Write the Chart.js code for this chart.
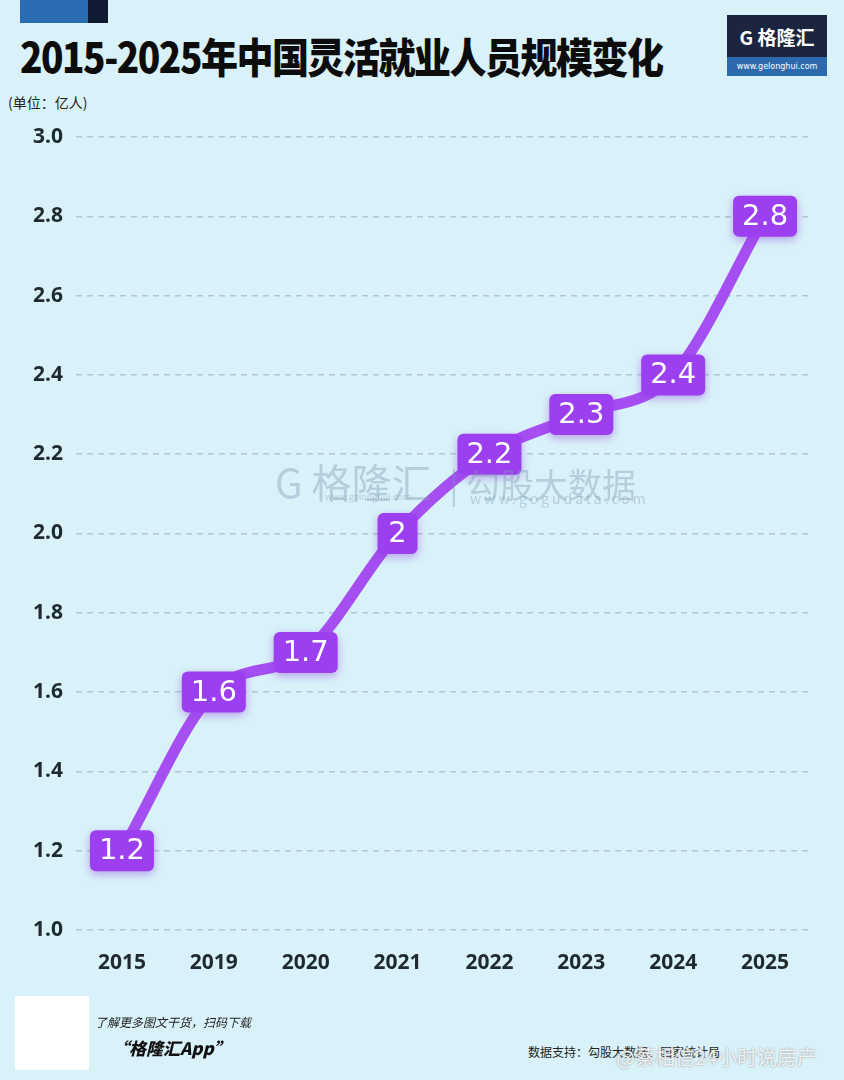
<!DOCTYPE html>
<html>
<head>
<meta charset="utf-8">
<script src="https://cdn.jsdelivr.net/npm/chart.js@4"></script>
<style>
  body { margin: 0; width: 844px; height: 1080px; background: #d9f2f9; position: relative; overflow: hidden;
         font-family: "Noto Sans CJK SC", "Noto Sans", sans-serif; }
  .abs { position: absolute; }
  #chartBox { left: 0; top: 100px; width: 844px; height: 900px; }
  #title { left: 20px; top: 25px; font-size: 37px; font-weight: 900; color: #0c0c0c; letter-spacing: -1.5px; white-space: nowrap;
           transform: scaleY(1.12); transform-origin: left top; }
  #unit { left: 8px; top: 92px; font-size: 14px; color: #222; }
  #logo { left: 727px; top: 15px; width: 100px; height: 61px; background: #1c2540; }
  #logo .name { position: absolute; left: 0; top: 8px; width: 100%; text-align: center; color: #fff; font-size: 19px; font-weight: 700; }
  #logo .url { position: absolute; left: 0; bottom: 0; width: 100%; height: 19px; background: #2c69ad; color: #fff; font-size: 8px; text-align: center; line-height: 19px; font-family: "DejaVu Sans", sans-serif; }
  #wm { left: 275px; top: 452px; color: rgba(125,155,175,0.4); white-space: nowrap; }
</style>
</head>
<body>
<div class="abs" style="left:20px;top:0;width:68px;height:23px;background:#2b6db2"></div>
<div class="abs" style="left:88px;top:0;width:20px;height:23px;background:#101a33"></div>
<div class="abs" id="title">2015-2025年中国灵活就业人员规模变化</div>
<div class="abs" id="logo"><div class="name">G 格隆汇</div><div class="url">www.gelonghui.com</div></div>
<div class="abs" id="unit">(单位：亿人)</div>
<div class="abs" id="chartBox"><canvas id="lineChart"></canvas></div>
<div class="abs" id="wm">
  <span style="font-size:40px;font-weight:400">G 格隆汇</span>
  <span style="font-size:34px;margin-left:14px">| 勾股大数据</span>
  <div style="position:absolute;left:50px;top:38px;font-size:9px">www.gelonghui.com</div>
  <div style="position:absolute;left:195px;top:36px;font-size:14px;letter-spacing:3px">www.gogudata.com</div>
</div>
<div class="abs" style="left:15px;top:996px;width:74px;height:74px;background:#fff"></div>
<div class="abs" style="left:95px;top:1013px;font-size:12px;font-style:italic;color:#222">了解更多图文干货，扫码下载</div>
<div class="abs" style="left:112px;top:1035px;font-size:17px;font-style:italic;font-weight:900;color:#111">“格隆汇App”</div>
<div class="abs" style="left:528px;top:1043px;font-size:12px;color:#222;white-space:nowrap">数据支持：勾股大数据、国家统计局</div>
<div class="abs" style="left:616px;top:1042px;font-size:20px;color:rgba(255,255,255,0.85);white-space:nowrap;text-shadow:0 0 2px #888">@蔡相信24小时说房产</div>
<script>
var years = ['2015', '2019', '2020', '2021', '2022', '2023', '2024', '2025'];
var workers = [1.2, 1.6, 1.7, 2.0, 2.2, 2.3, 2.4, 2.8];
var valueLabels = ['1.2', '1.6', '1.7', '2', '2.2', '2.3', '2.4', '2.8'];

// draws the purple value boxes on top of each point
var boxLabels = {
    id: 'boxLabels',
    afterDatasetsDraw: function (chart) {
        var c = chart.ctx;
        var pts = chart.getDatasetMeta(0).data;
        c.save();
        c.font = '29px "DejaVu Sans", sans-serif';
        c.textAlign = 'center';
        c.textBaseline = 'middle';
        pts.forEach(function (p, i) {
            var w = valueLabels[i].length > 1 ? 64 : 40, h = 41;
            c.shadowColor = 'rgba(140,60,220,0.45)';
            c.shadowBlur = 8;
            c.shadowOffsetY = 3;
            c.fillStyle = '#9b3ff0';
            c.beginPath();
            c.roundRect(p.x - w / 2, p.y - h / 2, w, h, 6);
            c.fill();
            c.shadowColor = 'transparent';
            c.fillStyle = '#ffffff';
            c.fillText(valueLabels[i], p.x, p.y + 1);
        });
        c.restore();
    }
};

var ctx = document.getElementById('lineChart').getContext('2d');
var myLineChart = new Chart(ctx, {
    type: 'line',
    data: {
        labels: years,
        datasets: [{
            data: workers,
            borderColor: '#a54ff2',
            borderWidth: 11,
            borderCapStyle: 'round',
            tension: 0.4,
            cubicInterpolationMode: 'monotone',
            pointRadius: 0,
            fill: false
        }]
    },
    plugins: [boxLabels],
    options: {
        responsive: true,
        maintainAspectRatio: false,
        animation: false,
        layout: { padding: { top: 37, right: 33, bottom: 20, left: 0 } },
        plugins: { legend: { display: false }, tooltip: { enabled: false } },
        scales: {
            x: {
                offset: true,
                grid: { display: false, drawTicks: false },
                border: { display: false },
                ticks: { padding: 20, color: '#1f2a30', font: { size: 21, weight: 'bold', family: '"Noto Sans", sans-serif' } },
                afterFit: function (s) { s.height = 50; }
            },
            y: {
                min: 1.0,
                max: 3.0,
                ticks: {
                    stepSize: 0.2,
                    padding: 13,
                    color: '#1f2a30',
                    font: { size: 21, weight: 'bold', family: '"Noto Sans", sans-serif' },
                    callback: function (v) { return v.toFixed(1); }
                },
                grid: { color: '#b0c8d0', lineWidth: 1.5, drawTicks: false },
                border: { display: false, dash: [6, 5] },
                afterFit: function (s) { s.width = 76; }
            }
        }
    }
});
</script>
</body>
</html>
